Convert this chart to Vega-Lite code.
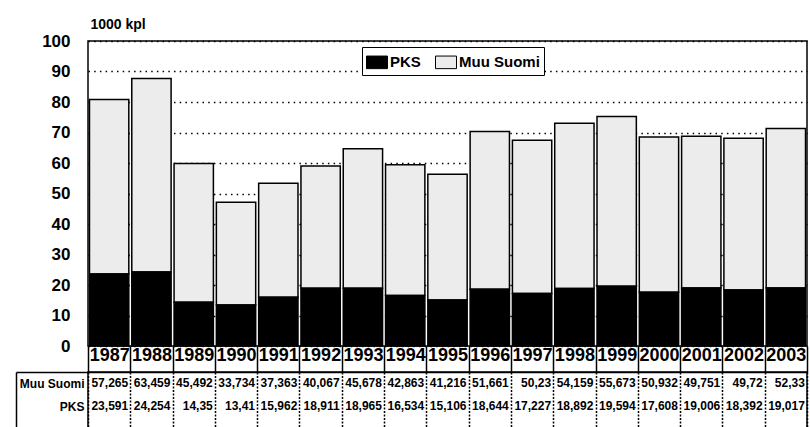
{
  "$schema": "https://vega.github.io/schema/vega-lite/v6.json",
  "padding": {"left": 14, "top": 16, "right": 5, "bottom": 0},
  "autosize": {"type": "pad"},
  "bounds": "flush",
  "spacing": 26,
  "config": {
    "font": "Liberation Sans",
    "locale": {"number": {"decimal": ",", "thousands": " ", "grouping": [3], "currency": ["", " €"]}},
    "view": {"stroke": "black", "strokeWidth": 1.5},
    "axis": {"labelFont": "Liberation Sans", "labelFontWeight": "bold", "labelColor": "black", "titleColor": "black", "titleFont": "Liberation Sans"},
    "legend": {"labelFont": "Liberation Sans"},
    "text": {"font": "Liberation Sans"}
  },
  "data": {"values": [
    {"year": "1987", "series": "Muu Suomi", "value": 57.265}, {"year": "1987", "series": "PKS", "value": 23.591},
    {"year": "1988", "series": "Muu Suomi", "value": 63.459}, {"year": "1988", "series": "PKS", "value": 24.254},
    {"year": "1989", "series": "Muu Suomi", "value": 45.492}, {"year": "1989", "series": "PKS", "value": 14.35},
    {"year": "1990", "series": "Muu Suomi", "value": 33.734}, {"year": "1990", "series": "PKS", "value": 13.41},
    {"year": "1991", "series": "Muu Suomi", "value": 37.363}, {"year": "1991", "series": "PKS", "value": 15.962},
    {"year": "1992", "series": "Muu Suomi", "value": 40.067}, {"year": "1992", "series": "PKS", "value": 18.911},
    {"year": "1993", "series": "Muu Suomi", "value": 45.678}, {"year": "1993", "series": "PKS", "value": 18.965},
    {"year": "1994", "series": "Muu Suomi", "value": 42.863}, {"year": "1994", "series": "PKS", "value": 16.534},
    {"year": "1995", "series": "Muu Suomi", "value": 41.216}, {"year": "1995", "series": "PKS", "value": 15.106},
    {"year": "1996", "series": "Muu Suomi", "value": 51.661}, {"year": "1996", "series": "PKS", "value": 18.644},
    {"year": "1997", "series": "Muu Suomi", "value": 50.23}, {"year": "1997", "series": "PKS", "value": 17.227},
    {"year": "1998", "series": "Muu Suomi", "value": 54.159}, {"year": "1998", "series": "PKS", "value": 18.892},
    {"year": "1999", "series": "Muu Suomi", "value": 55.673}, {"year": "1999", "series": "PKS", "value": 19.594},
    {"year": "2000", "series": "Muu Suomi", "value": 50.932}, {"year": "2000", "series": "PKS", "value": 17.608},
    {"year": "2001", "series": "Muu Suomi", "value": 49.751}, {"year": "2001", "series": "PKS", "value": 19.006},
    {"year": "2002", "series": "Muu Suomi", "value": 49.72}, {"year": "2002", "series": "PKS", "value": 18.392},
    {"year": "2003", "series": "Muu Suomi", "value": 52.33}, {"year": "2003", "series": "PKS", "value": 19.017}
  ]},
  "resolve": {"scale": {"x": "independent"}},
  "vconcat": [
    {
      "width": 719,
      "height": 305,
      "mark": {"type": "bar", "stroke": "black", "strokeWidth": 1.5},
      "encoding": {
        "x": {"field": "year", "type": "ordinal", "scale": {"paddingInner": 0.07, "paddingOuter": 0.035}, "axis": null},
        "y": {
          "field": "value", "type": "quantitative", "stack": "zero",
          "scale": {"domain": [0, 100], "nice": false},
          "axis": {
            "values": [0, 10, 20, 30, 40, 50, 60, 70, 80, 90, 100],
            "ticks": false, "domain": false, "labelPadding": 18, "labelFontSize": 17,
            "grid": true, "gridColor": "black", "gridWidth": 1.5, "gridDash": [1.5, 4.2], "gridOpacity": 1,
            "title": "1000 kpl", "titleAngle": 0, "titleAlign": "left", "titleBaseline": "alphabetic",
            "titleX": 2, "titleY": -13, "titleFontSize": 14, "titleFontWeight": "bold"
          }
        },
        "color": {
          "field": "series", "type": "nominal",
          "scale": {"domain": ["PKS", "Muu Suomi"], "range": ["black", "#ececec"]},
          "legend": {
            "orient": "none", "legendX": 274, "legendY": 6, "direction": "horizontal", "title": null,
            "strokeColor": "black", "fillColor": "white", "padding": 4,
            "labelFontSize": 15, "labelFontWeight": "bold", "labelColor": "black", "labelOffset": 2,
            "symbolType": "M-1,-0.6H1V0.6H-1Z", "symbolSize": 441, "symbolStrokeColor": "black",
            "symbolStrokeWidth": 1, "symbolOpacity": 1, "columnPadding": 12
          }
        },
        "order": {"field": "series", "sort": "descending"}
      }
    },
    {
      "width": 719,
      "height": 57,
      "mark": {"type": "text", "align": "right", "dx": 19, "fontSize": 12, "fontWeight": "bold", "color": "black"},
      "encoding": {
        "x": {
          "field": "year", "type": "ordinal", "scale": {"type": "band", "paddingInner": 0, "paddingOuter": 0},
          "axis": {
            "orient": "top", "tickBand": "extent", "ticks": true, "tickSize": 26, "tickColor": "black", "tickWidth": 1.5,
            "domain": true, "domainColor": "black", "domainWidth": 1.5,
            "labelPadding": -18, "labelFontSize": 18, "labelAngle": 0,
            "grid": true, "gridColor": "black", "gridWidth": 1.5, "gridDash": [2, 1.5], "gridOpacity": 1, "title": null
          }
        },
        "y": {
          "field": "series", "type": "nominal", "sort": ["Muu Suomi", "PKS"],
          "scale": {"type": "band", "paddingInner": 0, "paddingOuter": 0.24, "align": 0},
          "axis": {
            "title": null, "offset": 72, "domain": true, "domainColor": "black", "domainWidth": 1.5,
            "tickOffset": -11.5, "tickSize": -72, "tickColor": "black", "tickWidth": 1.5,
            "tickOpacity": {"condition": {"test": "datum.value === 'PKS'", "value": 0}, "value": 1},
            "labelPadding": 4, "labelAlign": "right", "labelOffset": 11.5, "labelFontSize": 12
          }
        },
        "text": {"field": "value", "type": "quantitative", "format": ".3~f"}
      }
    }
  ]
}
